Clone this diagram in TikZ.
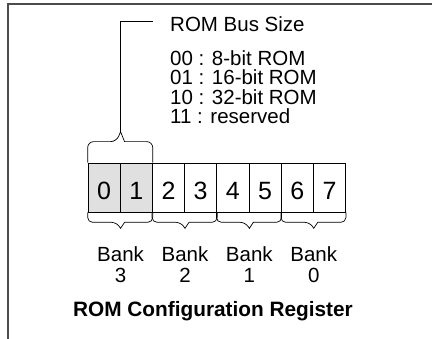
\documentclass[tikz,border=0pt]{standalone}
\usepackage{fontspec}
\setmainfont{Liberation Sans}
\usetikzlibrary{positioning}

\begin{document}
\begin{tikzpicture}[x=1pt, y=-1pt, every node/.style={inner sep=0pt},
  cellbox/.style={draw, line width=0.7pt, minimum width=32.2pt, minimum height=49pt,
    font=\fontsize{25}{25}\selectfont, text height=25pt, text depth=0pt},
  bracepath/.style={line width=0.7pt},
  banktext/.style={align=center, font=\fontsize{20.5}{21}\selectfont},
  frame/.style={line width=1.2pt, black!70}]

  \useasboundingbox (0,0) rectangle (432,339);

  % Outer frame (top and left only)
  \draw[frame] (8,339) -- (8,4) -- (432,4);

  % Register bits
  \foreach \i in {0,1}
    \node (cell\i) [cellbox, fill=black!12] at ({104.1+32.2*\i},187.5) {\i};
  \foreach \i in {2,...,7}
    \node (cell\i) [cellbox] at ({104.1+32.2*\i},187.5) {\i};

  % Brace over bits 0 and 1
  \draw[bracepath] (cell0.north west) [rounded corners=6pt] -- ++(0,-21)
    -- ([xshift=-4pt,yshift=21pt]cell0.north east) [sharp corners]
    -- ([yshift=31pt]cell0.north east) coordinate (bustip)
    -- ([xshift=4pt,yshift=21pt]cell0.north east) [rounded corners=6pt]
    -- ([yshift=21pt]cell1.north east) -- (cell1.north east);

  % Bus size legend
  \node (bussize) [anchor=base west, font=\fontsize{20.5}{20}\selectfont] at (170,32) {ROM Bus Size};
  \node (sizelist) [anchor=north west, align=left, font=\fontsize{20.5}{19.4}\selectfont] at (170,50.5)
    {00 : 8-bit ROM\\01 : 16-bit ROM\\10 : 32-bit ROM\\11 : reserved};
  \coordinate (lead) at (153,21);
  \draw[line width=0.7pt] (bustip) |- (lead);

  % Bank braces and labels
  \foreach \l/\r/\n in {0/1/3, 2/3/2, 4/5/1, 6/7/0} {
    \draw[bracepath] (cell\l.south west) [rounded corners=5pt] -- ++(0,10)
      -- ([xshift=-4pt,yshift=-10pt]cell\l.south east) [sharp corners]
      -- ([yshift=-16pt]cell\l.south east) coordinate (tip\n)
      -- ([xshift=4pt,yshift=-10pt]cell\l.south east) [rounded corners=5pt]
      -- ([yshift=-10pt]cell\r.south east) -- (cell\r.south east);
    \node (bank\n) [banktext, below=18pt of tip\n] {Bank\\\n};
  }

  % Register name
  \node (regname) [anchor=base, font=\fontsize{20.8}{20}\selectfont\bfseries] at (213,317)
    {ROM Configuration Register};

\end{tikzpicture}
\end{document}
